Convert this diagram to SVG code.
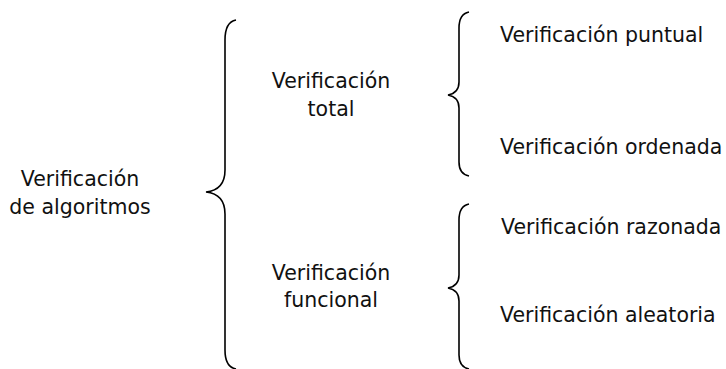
<svg xmlns="http://www.w3.org/2000/svg" width="726" height="369" viewBox="0 0 726 369">
<style>
text{font-family:"DejaVu Sans",sans-serif;font-size:20.5px;fill:#111}
.c{text-anchor:middle}
.b{fill:none;stroke:#000;stroke-width:1.6}
</style>
<rect width="726" height="369" fill="#fff"/>
<g id="connectors">
<path class="b" d="M236,20 Q225,22 225,40 L225,170 Q225,190 206,192 Q225,194 225,214 L225,350 Q225,367 236,369"/>
<path class="b" d="M469,12 Q459,14 459,28 L459,82 Q459,93 448,95 Q459,97 459,108 L459,162 Q459,174 469,176"/>
<path class="b" d="M469,204 Q459,206 459,220 L459,275 Q459,286 448,288 Q459,290 459,301 L459,355 Q459,367 469,369"/>
</g>
<g id="n-root"><text class="c" x="80" y="186">Verificación</text><text class="c" x="80" y="214">de algoritmos</text></g>
<g id="n-total"><text class="c" x="331" y="88">Verificación</text><text class="c" x="331" y="116">total</text></g>
<g id="n-funcional"><text class="c" x="331" y="280">Verificación</text><text class="c" x="331" y="307">funcional</text></g>
<g id="n-puntual"><text x="500" y="42">Verificación puntual</text></g>
<g id="n-ordenada"><text x="500" y="154">Verificación ordenada</text></g>
<g id="n-razonada"><text x="501" y="234">Verificación razonada</text></g>
<g id="n-aleatoria"><text x="500" y="322">Verificación aleatoria</text></g>
</svg>
